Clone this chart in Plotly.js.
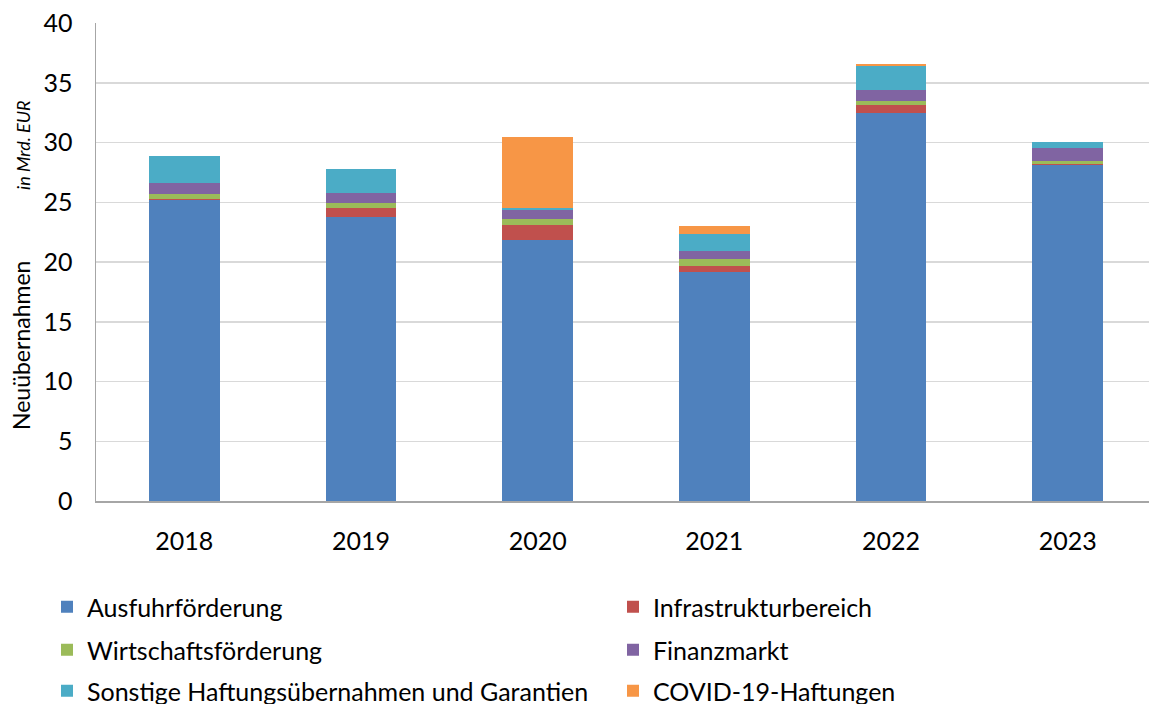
<!DOCTYPE html>
<html>
<head>
<meta charset="utf-8">
<script src="https://cdn.plot.ly/plotly-3.0.1.min.js"></script>
<style>html,body{margin:0;padding:0;background:#fff}#chart{width:1149px;height:704px}</style>
</head>
<body>
<div id="chart"></div>
<script>
const years = ["2018", "2019", "2020", "2021", "2022", "2023"];
const ausfuhrfoerderung = [25.2, 23.8, 21.8, 19.2, 32.5, 28.15];
const infrastrukturbereich = [0.1, 0.7, 1.3, 0.5, 0.6, 0.05];
const wirtschaftsfoerderung = [0.4, 0.4, 0.5, 0.53, 0.4, 0.28];
const finanzmarkt = [0.9, 0.85, 0.72, 0.7, 0.92, 1.03];
const sonstige = [2.3, 2.0, 0.23, 1.42, 1.95, 0.52];
const covid = [0, 0, 5.9, 0.64, 0.18, 0];
const seriesNames = ["Ausfuhrförderung", "Infrastrukturbereich", "Wirtschaftsförderung", "Finanzmarkt", "Sonstige Haftungsübernahmen und Garantien", "COVID-19-Haftungen"];
const seriesColors = ["#4f81bd", "#c0504d", "#9bbb59", "#8064a2", "#4bacc6", "#f79646"];
const seriesData = [ausfuhrfoerderung, infrastrukturbereich, wirtschaftsfoerderung, finanzmarkt, sonstige, covid];
const legendIds = ["legend", "legend2", "legend3", "legend4", "legend5", "legend6"];
const yTitleMain = "Neuübernahmen";
const yTitleUnit = "in Mrd. EUR";

const font = "Lato, 'Open Sans', sans-serif";
const traces = seriesNames.map((n, i) => ({
  type: "bar", name: n, x: years, y: seriesData[i],
  marker: {color: seriesColors[i], line: {width: 0}},
  width: 0.4, legend: legendIds[i], hoverinfo: "x+y+name"
}));

// legend placement in container pixels
const legX = [47, 613, 47, 613, 47, 613];
const legY = [607, 607, 650, 650, 691, 691];
function leg(i) {
  return {xref: "container", yref: "container", x: legX[i] / 1149, y: 1 - legY[i] / 704,
    xanchor: "left", yanchor: "middle",
    font: {family: font, size: 25, color: "#000"}, bgcolor: "rgba(0,0,0,0)"};
}

const sp = "&nbsp;".repeat(12);
const layout = {
  width: 1149, height: 704,
  margin: {l: 96, r: 0, t: 23, b: 203, autoexpand: false},
  barmode: "stack", bargap: 0.6,
  paper_bgcolor: "#fff", plot_bgcolor: "#fff",
  font: {family: font, color: "#000"},
  xaxis: {type: "category", range: [-0.5, 5.46], showgrid: false, showline: true, linecolor: "#a6a6a6", linewidth: 1.5,
    ticks: "", tickfont: {family: font, size: 25, color: "#000"}, ticklabelstandoff: 17, tickangle: 0},
  yaxis: {range: [0, 40], dtick: 5, showgrid: true, gridcolor: "#d9d9d9", gridwidth: 1.5, showline: true, linecolor: "#a6a6a6", linewidth: 1.5,
    ticks: "", tickfont: {family: font, size: 25, color: "#000"}, ticklabelstandoff: 17, zeroline: false},
  annotations: [{
    xref: "paper", yref: "paper", x: (21 - 96) / 1053, y: (501 - 265) / 478,
    xanchor: "center", yanchor: "middle", textangle: -90, showarrow: false,
    text: yTitleMain + sp + "<i><span style='font-size:18px'>" + yTitleUnit + "</span></i>",
    font: {family: font, size: 23, color: "#000"}
  }],
  showlegend: true
};
legendIds.forEach((id, i) => { layout[id] = leg(i); });
Plotly.newPlot("chart", traces, layout, {displayModeBar: false, staticPlot: true});
</script>
</body>
</html>
